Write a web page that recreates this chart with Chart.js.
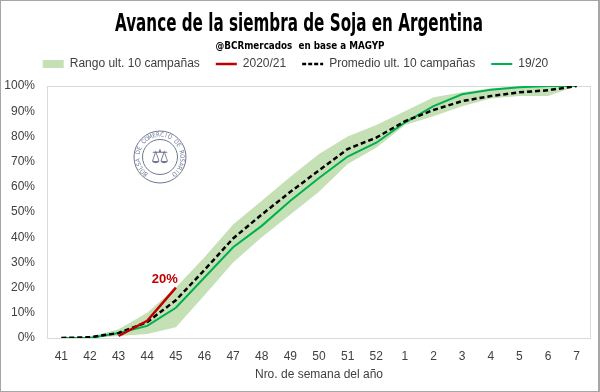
<!DOCTYPE html>
<html>
<head>
<meta charset="utf-8">
<script src="https://cdn.jsdelivr.net/npm/chart.js@4.4.0/dist/chart.umd.min.js"></script>
<style>
  html, body { margin: 0; padding: 0; background: #fff; }
  #wrap { width: 600px; height: 392px; }
</style>
</head>
<body>
<div id="wrap"><canvas id="myChart" width="600" height="392"></canvas></div>
<script>
// semanas del año (eje x)
const semanas = ["41", "42", "43", "44", "45", "46", "47", "48", "49", "50", "51", "52", "1", "2", "3", "4", "5", "6", "7"];

// rango ult. 10 campañas (minimo y maximo)
const rangoMin = [0, 0, 0.8, 1.6, 4.3, 17, 30, 40, 49, 58, 69, 75.5, 84.5, 88, 92, 95, 96, 96, 100];
const rangoMax = [0, 0.5, 3.5, 10, 20, 32, 45, 54.5, 64, 73, 80, 84.5, 90, 95.5, 97.5, 99, 100, 100, 100];

// promedio ult. 10 campañas
const promedio = [0, 0.3, 2, 6.3, 15, 27, 39.5, 49, 58, 66.5, 75, 79.5, 86, 90.5, 94, 96, 97.5, 98.3, 100];

// campaña 19/20
const campania1920 = [0, 0, 2, 4.8, 12, 24, 36, 44.5, 54.5, 63.5, 72, 77.5, 85.5, 92, 96.7, 98.5, 99.5, 100, 100];

// campaña 2020/21 (en curso)
const campania2021 = [null, null, 0.8, 6.8, 20, null, null, null, null, null, null, null, null, null, null, null, null, null, null];

const yTicks = [0, 10, 20, 30, 40, 50, 60, 70, 80, 90, 100];

const titulo = "Avance de la siembra de Soja en Argentina";
const subtitulo = "@BCRmercados  en base a MAGYP";

const colorRango = "#c5e0b4";
const colorRojo = "#c00000";
const colorVerde = "#00b050";
const colorTexto = "#404040";

const fuenteCond = "'DejaVu Sans Condensed', 'DejaVu Sans', sans-serif";
const fuente = "'Liberation Sans', Arial, sans-serif";

// texto angosto (titulo y subtitulo), se comprime a un ancho dado
function textoAngosto(ctx, txt, font, cx, base, ancho) {
  ctx.save();
  ctx.font = font;
  ctx.fillStyle = "#000";
  ctx.textAlign = "center";
  ctx.textBaseline = "alphabetic";
  const w = ctx.measureText(txt).width;
  ctx.translate(cx, base);
  ctx.scale(ancho / w, 1);
  ctx.fillText(txt, 0, 0);
  ctx.restore();
}

// espacio extra debajo de la leyenda
const margenLeyenda = {
  id: "margenLeyenda",
  beforeInit(chart) {
    const fitOrig = chart.legend.fit;
    chart.legend.fit = function () {
      fitOrig.bind(chart.legend)();
      this.height += 6;
    };
  },
};

// marco del grafico, borde exterior, titulos y sello
const marcoPlugin = {
  id: "marco",
  beforeDatasetsDraw(chart) {
    const { ctx, chartArea } = chart;
    ctx.save();
    ctx.strokeStyle = "#d9d9d9";
    ctx.lineWidth = 1;
    ctx.strokeRect(Math.round(chartArea.left) + 0.5, Math.round(chartArea.top) + 0.5,
      Math.round(chartArea.right - chartArea.left) - 1, Math.round(chartArea.bottom - chartArea.top));

    // sello de la bolsa
    const cx = chartArea.left + 113;
    const cy = chartArea.top + 71;
    ctx.strokeStyle = "#6b7690";
    ctx.fillStyle = "#6b7690";
    ctx.beginPath();
    ctx.arc(cx, cy, 26, 0, Math.PI * 2);
    ctx.stroke();
    ctx.beginPath();
    ctx.arc(cx, cy, 17.5, 0, Math.PI * 2);
    ctx.stroke();
    const txt = "BOLSA DE COMERCIO DE ROSARIO";
    ctx.font = "6px 'DejaVu Sans Condensed', sans-serif";
    ctx.textAlign = "center";
    ctx.textBaseline = "middle";
    const ini = (130 * Math.PI) / 180;
    const paso = (280 / (txt.length - 1)) * Math.PI / 180;
    for (let i = 0; i < txt.length; i++) {
      const a = ini + i * paso;
      ctx.save();
      ctx.translate(cx + Math.cos(a) * 22, cy + Math.sin(a) * 22);
      ctx.rotate(a + Math.PI / 2);
      ctx.fillText(txt[i], 0, 0);
      ctx.restore();
    }
    ctx.font = "20px 'DejaVu Sans', sans-serif";
    ctx.fillText("\u2696", cx, cy + 1);
    ctx.restore();
  },
  afterDraw(chart) {
    const { ctx, width, height } = chart;
    textoAngosto(ctx, titulo, "bold 24px " + fuenteCond, 299, 31, 368);
    textoAngosto(ctx, subtitulo, "bold 11px " + fuenteCond, 300, 49, 169);
    ctx.save();
    ctx.strokeStyle = "#a6a6a6";
    ctx.lineWidth = 1;
    ctx.strokeRect(0.5, 0.5, width - 1, height - 1);
    ctx.beginPath();
    ctx.moveTo(width - 1.5, 0);
    ctx.lineTo(width - 1.5, height);
    ctx.stroke();
    ctx.restore();
  },
};

// etiqueta del ultimo dato de 2020/21
const etiquetaPlugin = {
  id: "etiqueta",
  afterDatasetsDraw(chart) {
    const { ctx, scales } = chart;
    let ult = -1;
    campania2021.forEach((v, i) => { if (v !== null) ult = i; });
    if (ult < 0) return;
    const x = scales.x.getPixelForValue(ult);
    const y = scales.y.getPixelForValue(campania2021[ult]);
    ctx.save();
    ctx.fillStyle = colorRojo;
    ctx.font = "bold 13px " + fuente;
    ctx.textAlign = "center";
    ctx.textBaseline = "middle";
    ctx.fillText(campania2021[ult] + "%", x - 11, y - 8);
    ctx.restore();
  },
};

function main() {
  const ctx = document.getElementById("myChart").getContext("2d");
  new Chart(ctx, {
    type: "line",
    data: {
      labels: semanas,
      datasets: [
        {
          label: "Rango ult. 10 campañas",
          data: rangoMax,
          fill: 1,
          backgroundColor: colorRango,
          borderColor: "rgba(0,0,0,0)",
          borderWidth: 1,
          pointRadius: 0,
        },
        {
          label: "min",
          data: rangoMin,
          fill: false,
          borderColor: "rgba(0,0,0,0)",
          borderWidth: 1,
          pointRadius: 0,
        },
        {
          label: "2020/21",
          data: campania2021,
          borderColor: colorRojo,
          borderWidth: 2.5,
          pointRadius: 0,
          fill: false,
          spanGaps: false,
        },
        {
          label: "Promedio ult. 10 campañas",
          data: promedio,
          borderColor: "#000000",
          borderWidth: 2.5,
          borderDash: [5, 3],
          pointRadius: 0,
          fill: false,
        },
        {
          label: "19/20",
          data: campania1920,
          borderColor: colorVerde,
          borderWidth: 2,
          pointRadius: 0,
          fill: false,
        },
      ],
    },
    options: {
      responsive: false,
      animation: false,
      events: [],
      layout: { padding: { left: 0, right: 9, top: 42, bottom: 2 } },
      plugins: {
        filler: { drawTime: "beforeDatasetsDraw" },
        tooltip: { enabled: false },
        title: { display: false },
        legend: {
          display: true,
          position: "top",
          labels: {
            usePointStyle: true,
            pointStyleWidth: 21,
            boxHeight: 8,
            padding: 16,
            color: colorTexto,
            font: { family: fuente, size: 12 },
            generateLabels() {
              return [
                { text: "Rango ult. 10 campañas", fillStyle: colorRango, strokeStyle: colorRango, lineWidth: 0, pointStyle: "rect", fontColor: colorTexto },
                { text: "2020/21", fillStyle: colorRojo, strokeStyle: colorRojo, lineWidth: 2.5, pointStyle: "line", fontColor: colorTexto },
                { text: "Promedio ult. 10 campañas", fillStyle: "#000", strokeStyle: "#000", lineWidth: 2.5, lineDash: [4, 2], pointStyle: "line", fontColor: colorTexto },
                { text: "19/20", fillStyle: colorVerde, strokeStyle: colorVerde, lineWidth: 2, pointStyle: "line", fontColor: colorTexto },
              ];
            },
          },
        },
      },
      scales: {
        x: {
          type: "category",
          offset: true,
          grid: { display: false, drawTicks: false },
          border: { display: false },
          afterFit(scale) { scale.height = 52; },
          ticks: { color: colorTexto, font: { family: fuente, size: 12 }, padding: 11, maxRotation: 0, autoSkip: false },
          title: {
            display: true,
            text: "Nro. de semana del año",
            color: colorTexto,
            font: { family: fuente, size: 12 },
            padding: { top: 4, bottom: 8 },
          },
        },
        y: {
          min: 0,
          max: 100,
          grid: { display: false, drawTicks: false },
          border: { display: false },
          afterFit(scale) { scale.width = 47; },
          afterBuildTicks(scale) { scale.ticks = yTicks.map((v) => ({ value: v })); },
          ticks: {
            color: colorTexto,
            font: { family: fuente, size: 12 },
            padding: 12,
            callback: (v) => v + "%",
          },
        },
      },
    },
    plugins: [margenLeyenda, marcoPlugin, etiquetaPlugin],
  });
}

document.addEventListener("DOMContentLoaded", main);
</script>
</body>
</html>
